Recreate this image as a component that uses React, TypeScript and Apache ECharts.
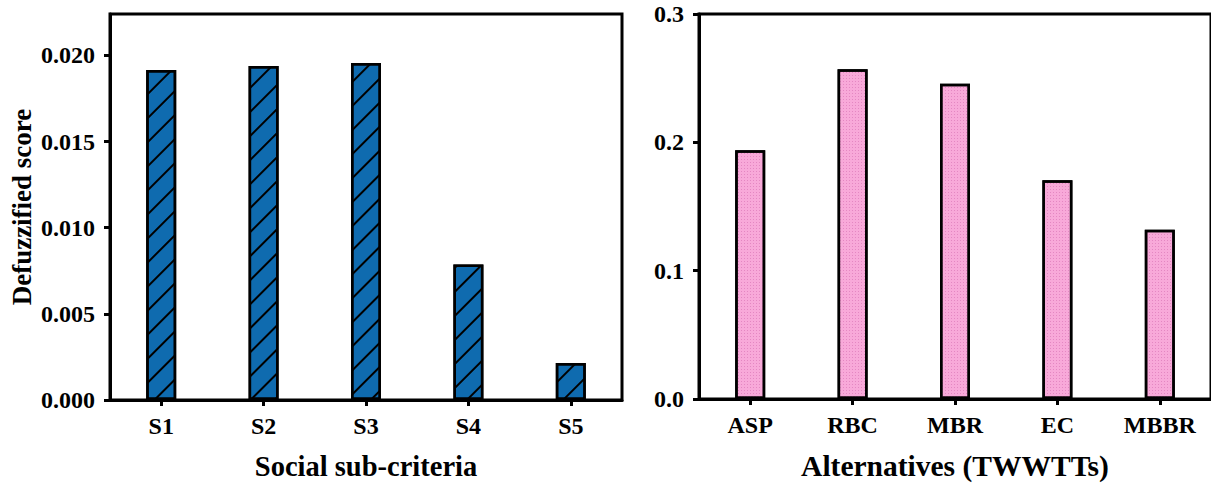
import React, { useEffect, useRef } from "react";
import * as echarts from "echarts";

const socialCats = ["S1", "S2", "S3", "S4", "S5"];
const socialScores = [0.01915, 0.01938, 0.01955, 0.00787, 0.00215];
const socialTicks = [0, 0.005, 0.01, 0.015, 0.02];

const altCats = ["ASP", "RBC", "MBR", "EC", "MBBR"];
const altScores = [0.1938, 0.257, 0.2457, 0.1705, 0.1318];
const altTicks = [0, 0.1, 0.2, 0.3];

const FONT = "Liberation Serif";

export default function App() {
  const ref = useRef<HTMLDivElement>(null);
  useEffect(() => {
    if (!ref.current) return;
    const chart = echarts.init(ref.current, undefined, { renderer: "svg" });
    const labelStyle = { fontFamily: FONT, fontWeight: "bold" as const, fontSize: 24, color: "#000" };
    const nameStyle = { fontFamily: FONT, fontWeight: "bold" as const, fontSize: 28.5, color: "#000" };
    const axisLine = { show: true, lineStyle: { color: "#000", width: 3 } };
    const axisTick = { show: true, inside: false, length: 6, lineStyle: { color: "#000", width: 3 } };
    chart.setOption({
      animation: false,
      backgroundColor: "#fff",
      grid: [
        { left: 110, top: 14, width: 512, height: 386, show: true, borderColor: "#000", borderWidth: 3, backgroundColor: "transparent" },
        { left: 699, top: 14, width: 516, height: 386, show: true, borderColor: "#000", borderWidth: 3, backgroundColor: "transparent" },
      ],
      xAxis: [
        {
          gridIndex: 0, type: "category", data: socialCats,
          axisLine, axisTick: { ...axisTick, alignWithLabel: true },
          axisLabel: { ...labelStyle, margin: 14 },
          name: "Social sub-criteria", nameLocation: "middle", nameGap: 52,
          nameTextStyle: nameStyle,
        },
        {
          gridIndex: 1, type: "category", data: altCats,
          axisLine, axisTick: { ...axisTick, alignWithLabel: true },
          axisLabel: { ...labelStyle, margin: 14 },
          name: "Alternatives (TWWTTs)", nameLocation: "middle", nameGap: 52,
          nameTextStyle: { ...nameStyle, fontSize: 29.5 },
        },
      ],
      yAxis: [
        {
          gridIndex: 0, type: "value", min: 0, max: 0.0224,
          splitLine: { show: false },
          axisLine, axisTick: { ...axisTick, customValues: socialTicks },
          axisLabel: { ...labelStyle, margin: 15, customValues: socialTicks, formatter: (v: number) => v.toFixed(3) },
          name: "Defuzzified score", nameLocation: "middle", nameGap: 75,
          nameTextStyle: { ...nameStyle, fontSize: 27 },
        },
        {
          gridIndex: 1, type: "value", min: 0, max: 0.3,
          splitLine: { show: false },
          axisLine, axisTick: { ...axisTick, customValues: altTicks },
          axisLabel: { ...labelStyle, margin: 15, customValues: altTicks, formatter: (v: number) => v.toFixed(1) },
        },
      ],
      series: [
        {
          type: "bar", xAxisIndex: 0, yAxisIndex: 0, data: socialScores, barWidth: 30,
          itemStyle: {
            color: "#0F6BAF", borderColor: "#000", borderWidth: 2.5,
            decal: { symbol: "rect", symbolSize: 1, dashArrayX: [1, 0], dashArrayY: [1.3, 14.5], rotation: -Math.PI / 4, color: "#000" },
          },
        },
        {
          type: "bar", xAxisIndex: 1, yAxisIndex: 1, data: altScores, barWidth: 30,
          itemStyle: {
            color: "#F8A9D9", borderColor: "#000", borderWidth: 2.5,
            decal: { symbol: "rect", symbolSize: 1, dashArrayX: [1, 2], dashArrayY: [1, 2], color: "rgba(190,70,150,0.35)" },
          },
        },
      ],
    });
    return () => chart.dispose();
  }, []);
  return <div ref={ref} style={{ position: "fixed", left: 0, top: 0, width: 1211, height: 486 }} />;
}
